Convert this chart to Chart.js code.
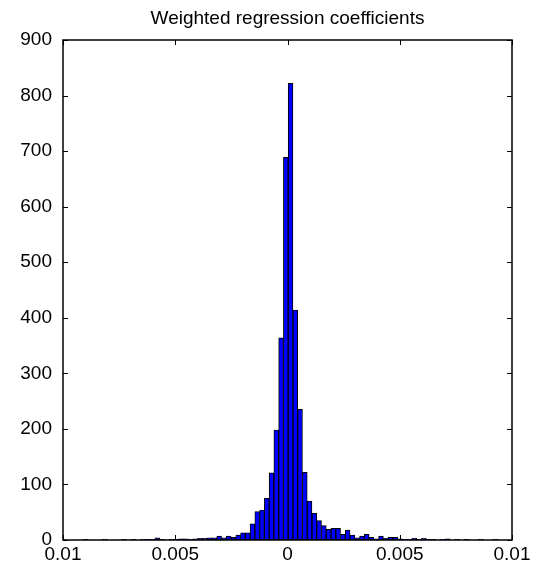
<!DOCTYPE html>
<html>
<head>
<meta charset="utf-8">
<script src="https://cdn.jsdelivr.net/npm/chart.js@4.4.1/dist/chart.umd.min.js"></script>
<style>
  html, body { margin: 0; padding: 0; background: #fff; }
  #wrap { width: 534px; height: 570px; }
</style>
</head>
<body>
<div id="wrap"><canvas id="histChart" width="534" height="570"></canvas></div>
<script>
// histogram bins (hist with fixed-width bins), x in coefficient units
const binStart = -0.010146;
const binWidth = 0.000212;

// counts per bin, left to right
const counts = [
  1, 0, 0, 0, 0, 1, 0, 0, 0, 1,
  0, 0, 0, 1, 0, 1, 0, 1, 1, 1,
  4, 1, 0, 1, 1, 2, 2, 1, 2, 3,
  3, 4, 4, 7, 4, 7, 5, 9, 13, 13,
  29, 51, 54, 75, 121, 198, 364, 689, 822, 414,
  235, 122, 70, 48, 35, 26, 19, 21, 21, 10,
  18, 9, 4, 7, 10, 5, 2, 7, 3, 5,
  5, 2, 1, 1, 3, 1, 3, 1, 1, 0,
  1, 2, 0, 1, 0, 1, 0, 0, 1, 0,
  0, 1, 0, 0, 0, 2
];

const xTickValues = [-0.01, -0.005, 0, 0.005, 0.01];
const xTickLabels = ['0.01', '0.005', '0', '0.005', '0.01'];
const yTickValues = [0, 100, 200, 300, 400, 500, 600, 700, 800, 900];

const binCenters = counts.map((c, i) => binStart + (i + 0.5) * binWidth);
const points = counts.map((c, i) => ({ x: binCenters[i], y: c }));

const tickFont = { family: 'Liberation Sans, Arial, sans-serif', size: 19 };

// matlab style: full box, ticks pointing inwards on all four sides
const boxTicks = {
  id: 'boxTicks',
  afterDraw(chart) {
    const { ctx, chartArea: a, scales } = chart;
    const len = 5;
    ctx.save();
    ctx.strokeStyle = '#000';
    ctx.lineWidth = 1;
    ctx.beginPath();
    yTickValues.forEach(v => {
      const y = Math.round(scales.y.getPixelForValue(v)) + 0.5;
      ctx.moveTo(a.left, y); ctx.lineTo(a.left + len, y);
      ctx.moveTo(a.right, y); ctx.lineTo(a.right - len, y);
    });
    xTickValues.forEach(v => {
      const x = Math.round(scales.x.getPixelForValue(v)) + 0.5;
      ctx.moveTo(x, a.bottom); ctx.lineTo(x, a.bottom - len);
      ctx.moveTo(x, a.top); ctx.lineTo(x, a.top + len);
    });
    ctx.stroke();
    ctx.lineWidth = 1.5;
    ctx.strokeRect(a.left, a.top, a.right - a.left, a.bottom - a.top);
    ctx.restore();
  }
};

const ctx = document.getElementById('histChart').getContext('2d');
new Chart(ctx, {
  type: 'bar',
  data: {
    datasets: [{
      data: points,
      backgroundColor: '#0000ff',
      borderColor: '#000',
      borderWidth: 1,
      borderSkipped: false,
      barPercentage: 1,
      categoryPercentage: 1,
      clip: 0
    }]
  },
  plugins: [boxTicks],
  options: {
    responsive: false,
    animation: false,
    layout: { padding: { left: 0, right: 22, top: 0, bottom: 0 } },
    plugins: {
      legend: { display: false },
      tooltip: { enabled: false },
      title: {
        display: true,
        fullSize: false,
        text: 'Weighted regression coefficients',
        color: '#000',
        font: { family: 'Liberation Sans, Arial, sans-serif', size: 19, weight: 'normal' },
        padding: { top: 7, bottom: 10.2 }
      }
    },
    scales: {
      x: {
        type: 'linear',
        offset: false,
        min: -0.01,
        max: 0.01,
        afterBuildTicks: s => { s.ticks = xTickValues.map(v => ({ value: v })); },
        afterFit: s => { s.height = 30; },
        ticks: {
          autoSkip: false,
          maxRotation: 0,
          padding: 3,
          color: '#000',
          font: tickFont,
          callback: (v, i) => xTickLabels[i]
        },
        grid: { display: false, drawTicks: false },
        border: { display: false }
      },
      y: {
        min: 0,
        max: 900,
        afterBuildTicks: s => { s.ticks = yTickValues.map(v => ({ value: v })); },
        afterFit: s => { s.width = 63; },
        ticks: {
          padding: 11,
          color: '#000',
          font: tickFont
        },
        grid: { display: false, drawTicks: false },
        border: { display: false }
      }
    }
  }
});
</script>
</body>
</html>
